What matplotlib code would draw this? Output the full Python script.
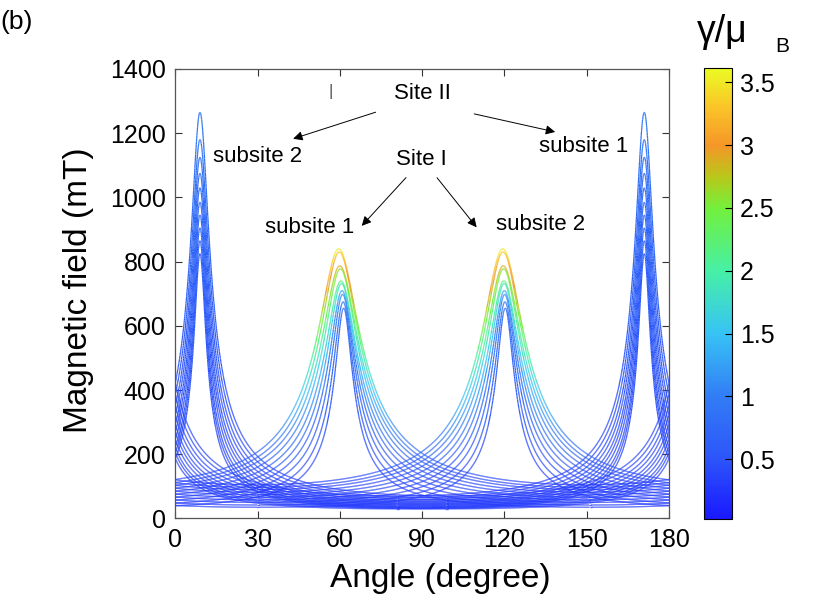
import numpy as np
import matplotlib
matplotlib.use('Agg')
import matplotlib.pyplot as plt
from matplotlib.collections import LineCollection
from matplotlib.colors import LinearSegmentedColormap, Normalize

plt.rcParams['font.family'] = ['Liberation Sans', 'DejaVu Sans']

# Site I branches (peaks near 60 and 120 degree)
site1_center_a = [59.6, 59.8, 60.0, 60.2, 60.4, 60.6, 60.8, 61.0, 61.2, 61.4]
site1_center_b = [119.4, 119.5, 119.6, 119.7, 119.8, 119.9, 120.0, 120.1, 120.2, 120.3]
site1_peak = [840, 830, 787, 778, 740, 732, 710, 698, 675, 655]    # mT at the apex
site1_floor = [105, 97, 90, 82, 74, 66, 58, 50, 42, 35]           # mT, 90 deg away
site1_gamma = [3.55, 3.3, 2.9, 2.6, 2.2, 1.9, 1.3, 1.1, 0.9, 0.8]  # gamma/muB at apex

# Site II branches (peaks near 9 and 171 degree)
site2_center_a = [9.0] * 10
site2_center_b = [171.0] * 10
site2_peak = [1265, 1180, 1125, 1075, 1030, 985, 945, 905, 865, 825]
site2_floor = [70, 64, 58, 53, 48, 44, 40, 36, 33, 30]
site2_gamma = [0.95, 0.9, 0.85, 0.8, 0.8, 0.75, 0.75, 0.7, 0.7, 0.65]

gamma_floor = 0.3

x_ticks = [0, 30, 60, 90, 120, 150, 180]
y_ticks = [0, 200, 400, 600, 800, 1000, 1200, 1400]
cb_ticks = [0.5, 1, 1.5, 2, 2.5, 3, 3.5]
cb_labels = ['0.5', '1', '1.5', '2', '2.5', '3', '3.5']

# colour scale
cmap_vals = [0.025, 0.5, 1.0, 1.5, 2.0, 2.5, 2.75, 3.0, 3.3, 3.61]
cmap_rgb = [(25, 25, 255), (45, 85, 250), (50, 125, 245), (55, 195, 245),
            (70, 240, 165), (115, 240, 60), (185, 200, 25), (245, 150, 40),
            (250, 195, 40), (235, 250, 35)]

vmin, vmax = cmap_vals[0], cmap_vals[-1]
cmap = LinearSegmentedColormap.from_list(
    'gam', [((v - vmin) / (vmax - vmin), tuple(c / 255 for c in rgb))
            for v, rgb in zip(cmap_vals, cmap_rgb)])
norm = Normalize(vmin, vmax)


def resonance(theta, c, bpk, bfl):
    d = np.radians(theta - c)
    return 1.0 / np.sqrt(np.cos(d) ** 2 / bpk ** 2 + np.sin(d) ** 2 / bfl ** 2)


fig = plt.figure(figsize=(8.3, 6.04), dpi=100)
ax = fig.add_axes([0.2112, 0.1416, 0.5948, 0.7442])
cax = fig.add_axes([0.848, 0.1408, 0.0337, 0.7459])

theta = np.linspace(0, 180, 2400)
segs, cols = [], []
groups = [(site2_center_a, site2_peak, site2_floor, site2_gamma),
          (site2_center_b, site2_peak, site2_floor, site2_gamma),
          (site1_center_a, site1_peak, site1_floor, site1_gamma),
          (site1_center_b, site1_peak, site1_floor, site1_gamma)]
for cens, pks, fls, gms in groups:
    for c, bpk, bfl, gpk in zip(cens, pks, fls, gms):
        b = resonance(theta, c, bpk, bfl)
        g = gamma_floor + (gpk - gamma_floor) * (b - bfl) / (bpk - bfl)
        pts = np.column_stack([theta, b])
        segs.append(np.stack([pts[:-1], pts[1:]], axis=1))
        cols.append(0.5 * (g[:-1] + g[1:]))

lc = LineCollection(np.concatenate(segs), cmap=cmap, norm=norm, linewidths=0.9)
lc.set_array(np.concatenate(cols))
ax.add_collection(lc)

ax.set_xlim(0, 180)
ax.set_ylim(0, 1400)
ax.set_xticks(x_ticks)
ax.set_yticks(y_ticks)
ax.tick_params(direction='in', top=True, right=True, length=5, width=0.8,
               labelsize=18, pad=7, color='#333333')
for s in ax.spines.values():
    s.set_color('#555555')
    s.set_linewidth(0.9)

cb = fig.colorbar(lc, cax=cax, ticks=cb_ticks)
cb.ax.set_yticklabels(cb_labels)
cb.ax.tick_params(direction='in', length=5, labelsize=18, pad=6)
cb.outline.set_linewidth(0.8)

fig.text(440 / 830, 1 - 578 / 604, 'Angle (degree)', ha='center', va='center',
         fontsize=24)
fig.text(78 / 830, 1 - 290 / 604, 'Magnetic field (mT)', ha='center', va='center',
         rotation=90, fontsize=24)
fig.text(0.0, 1 - 22 / 604, '(b)', ha='left', va='center', fontsize=19)
fig.text(697 / 830, 1 - 42 / 604, 'γ/μ', ha='left', va='baseline', fontsize=27)
fig.text(775 / 830, 1 - 52 / 604, 'B', ha='left', va='baseline', fontsize=15)

# annotations
afs = 16
ax.text(90.0, 1325, 'Site II', ha='center', va='center', fontsize=afs)
ax.text(89.6, 1117, 'Site I', ha='center', va='center', fontsize=afs)
ax.text(30.0, 1126, 'subsite 2', ha='center', va='center', fontsize=afs)
ax.text(149.0, 1157, 'subsite 1', ha='center', va='center', fontsize=afs)
ax.text(48.8, 907, 'subsite 1', ha='center', va='center', fontsize=afs)
ax.text(133.0, 917, 'subsite 2', ha='center', va='center', fontsize=afs)
ax.text(56.8, 1330, '|', ha='center', va='center', fontsize=12, color='#555555')

arr = dict(arrowstyle='-|>', color='black', lw=0.7, mutation_scale=14)
ax.annotate('', xy=(42.0, 1180), xytext=(74.0, 1268), arrowprops=arr)
ax.annotate('', xy=(139.5, 1202), xytext=(108.0, 1262), arrowprops=arr)
ax.annotate('', xy=(67.3, 905), xytext=(84.8, 1068), arrowprops=arr)
ax.annotate('', xy=(110.5, 900), xytext=(94.8, 1068), arrowprops=arr)

fig.savefig('out.png', dpi=100)
